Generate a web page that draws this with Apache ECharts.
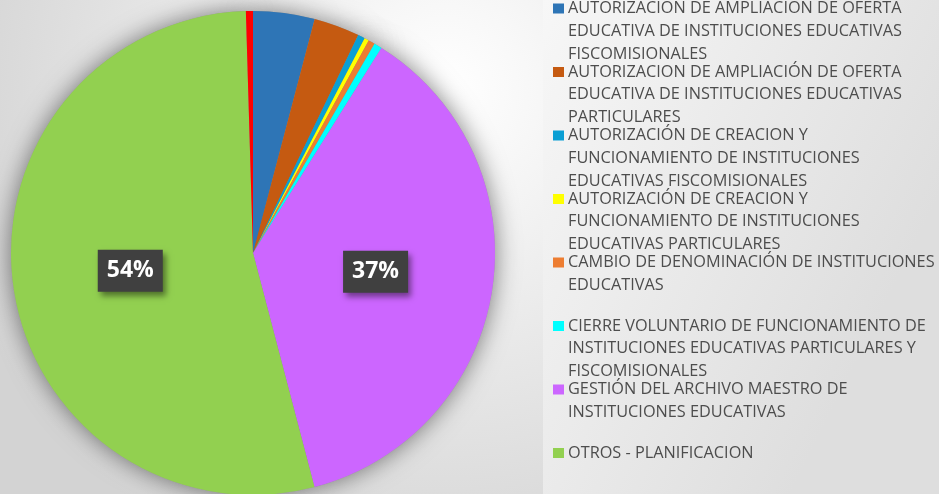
<!DOCTYPE html>
<html>
<head>
<meta charset="UTF-8">
<title>Trámites por tipo</title>
<script src="https://cdn.jsdelivr.net/npm/echarts@6/dist/echarts.min.js"></script>
<style>
html,body{margin:0;padding:0;}
#pie{width:939px;height:494px;}
</style>
</head>
<body>
<div id="pie"></div>
<script>
// categorias (en orden de las porciones, desde las 12 en sentido horario)
var names = [
    'AUTORIZACION DE AMPLIACIÓN DE OFERTA EDUCATIVA DE INSTITUCIONES EDUCATIVAS FISCOMISIONALES',
    'AUTORIZACION DE AMPLIACIÓN DE OFERTA EDUCATIVA DE INSTITUCIONES EDUCATIVAS PARTICULARES',
    'AUTORIZACIÓN DE CREACION Y FUNCIONAMIENTO DE INSTITUCIONES EDUCATIVAS FISCOMISIONALES',
    'AUTORIZACIÓN DE CREACION Y FUNCIONAMIENTO DE INSTITUCIONES EDUCATIVAS PARTICULARES',
    'CAMBIO DE DENOMINACIÓN DE INSTITUCIONES EDUCATIVAS',
    'CIERRE VOLUNTARIO DE FUNCIONAMIENTO DE INSTITUCIONES EDUCATIVAS PARTICULARES Y FISCOMISIONALES',
    'GESTIÓN DEL ARCHIVO MAESTRO DE INSTITUCIONES EDUCATIVAS',
    'OTROS - PLANIFICACION',
    'OTROS'
];
// porcentaje de cada porcion
var values = [4.1, 3.06, 0.47, 0.3, 0.44, 0.53, 37.0, 53.6, 0.47];
// texto de la leyenda, cortado en lineas como en la imagen
var legendLines = [
    ['AUTORIZACION DE AMPLIACIÓN DE OFERTA', 'EDUCATIVA DE INSTITUCIONES EDUCATIVAS', 'FISCOMISIONALES'],
    ['AUTORIZACION DE AMPLIACIÓN DE OFERTA', 'EDUCATIVA DE INSTITUCIONES EDUCATIVAS', 'PARTICULARES'],
    ['AUTORIZACIÓN DE CREACION Y', 'FUNCIONAMIENTO DE INSTITUCIONES', 'EDUCATIVAS FISCOMISIONALES'],
    ['AUTORIZACIÓN DE CREACION Y', 'FUNCIONAMIENTO DE INSTITUCIONES', 'EDUCATIVAS PARTICULARES'],
    ['CAMBIO DE DENOMINACIÓN DE INSTITUCIONES', 'EDUCATIVAS'],
    ['CIERRE VOLUNTARIO DE FUNCIONAMIENTO DE', 'INSTITUCIONES EDUCATIVAS PARTICULARES Y', 'FISCOMISIONALES'],
    ['GESTIÓN DEL ARCHIVO MAESTRO DE', 'INSTITUCIONES EDUCATIVAS'],
    ['OTROS - PLANIFICACION']
];
var colors = ['#2e75b6', '#c55a11', '#0a9fd4', '#ffff00', '#ed7d31', '#00ffff', '#cc66ff', '#92d050', '#ff0000'];

var pieChart = echarts.init(document.getElementById('pie'));

var total = 0;
for (var i = 0; i < values.length; i++) total += values[i];

var pieData = [];
var shadowData = [];
for (var i = 0; i < names.length; i++) {
    pieData.push({
        name: names[i],
        value: values[i],
        label: { show: values[i] / total >= 0.1 }
    });
    shadowData.push({ name: names[i], value: values[i] });
}

// estilos rich para los cuadritos de la leyenda
var rich = {
    g: { width: 4 },
    ind: { width: 15 },
    t: { fontFamily: 'Open Sans', fontSize: 16.3, color: '#4d4d4d', lineHeight: 22.7 }
};
for (var i = 0; i < colors.length; i++) {
    rich['s' + i] = { width: 11, height: 10, backgroundColor: colors[i] };
}

var option = {
    animation: false,
    color: colors,
    graphic: [
        {
            type: 'rect', left: 0, top: 0, z: -10, silent: true,
            shape: { width: 543, height: 494 },
            style: {
                fill: { type: 'radial', x: 0.82, y: 0.18, r: 1.05,
                    colorStops: [{ offset: 0, color: '#ffffff' }, { offset: 1, color: '#d3d3d3' }] }
            }
        },
        {
            type: 'rect', left: 543, top: 0, z: -10, silent: true,
            shape: { width: 396, height: 494 },
            style: {
                fill: { type: 'linear', x: 0, y: 0, x2: 1, y2: 0.4,
                    colorStops: [{ offset: 0, color: '#f7f7f7' }, { offset: 1, color: '#dedede' }] }
            }
        }
    ],
    legend: {
        orient: 'vertical',
        left: 548,
        top: 0.5,
        height: 700,
        padding: 0,
        itemGap: 2.1,
        itemWidth: 0,
        itemHeight: 0,
        itemStyle: { opacity: 0 },
        selectedMode: false,
        data: names.slice(0, 8),
        formatter: function (name) {
            var i = names.indexOf(name);
            var lines = legendLines[i].slice();
            while (lines.length < 3) lines.push(' ');
            var out = '{s' + i + '|}{g|}{t|' + lines[0] + '}';
            for (var k = 1; k < lines.length; k++) {
                out += '\n{ind|}{t|' + lines[k] + '}';
            }
            return out;
        },
        textStyle: { rich: rich }
    },
    series: [
        {
            // sombra debajo del pastel
            name: 'sombra',
            type: 'pie',
            z: 1,
            silent: true,
            center: [253, 253],
            radius: 242,
            startAngle: 90,
            data: shadowData,
            label: { show: false },
            labelLine: { show: false },
            itemStyle: { color: '#999', shadowBlur: 24, shadowColor: 'rgba(0,0,0,0.5)' }
        },
        {
            name: 'Trámites',
            type: 'pie',
            z: 2,
            center: [253, 253],
            radius: 242,
            startAngle: 90,
            data: pieData,
            itemStyle: { borderWidth: 0 },
            label: {
                position: 'inside',
                formatter: function (p) { return Math.round(p.percent) + '%'; },
                fontFamily: 'Open Sans',
                fontWeight: 'bold',
                fontSize: 23,
                lineHeight: 28,
                color: '#ffffff',
                backgroundColor: '#404040',
                padding: [7, 9],
                shadowColor: 'rgba(0,0,0,0.45)',
                shadowBlur: 6,
                shadowOffsetX: 3,
                shadowOffsetY: 4
            },
            labelLine: { show: false },
            emphasis: { disabled: true }
        }
    ]
};
pieChart.setOption(option);
</script>
</body>
</html>
